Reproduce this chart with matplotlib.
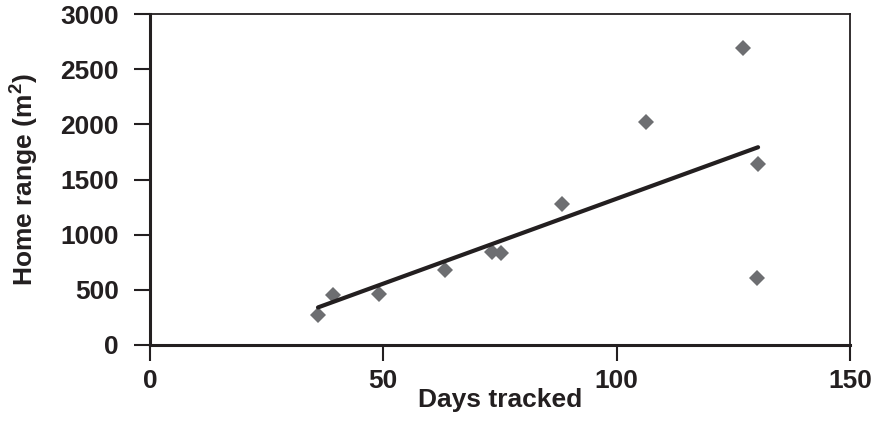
import numpy as np
import matplotlib
matplotlib.use("Agg")
import matplotlib.pyplot as plt

# Data
days = [36.0, 39.2, 49.1, 63.2, 73.3, 75.2, 88.3, 106.3, 127.1, 130.3, 130.1]
home_range = [272, 453, 462, 680, 843, 834, 1278, 2022, 2693, 1641, 607]

x_ticks = [0, 50, 100, 150]
y_ticks = [0, 500, 1000, 1500, 2000, 2500, 3000]

ink = "#231f20"
grey = "#6d6e71"

plt.rcParams["font.family"] = ["Liberation Sans", "DejaVu Sans"]
plt.rcParams["font.weight"] = "bold"
plt.rcParams["mathtext.fontset"] = "custom"
plt.rcParams["mathtext.rm"] = "Liberation Sans:bold"
plt.rcParams["mathtext.bf"] = "Liberation Sans:bold"

fig = plt.figure(figsize=(8.77, 4.30), dpi=100)
ax = fig.add_axes([150 / 877, 85 / 430, 700 / 877, 331 / 430])

ax.plot(days, home_range, linestyle="none", marker="D", markersize=8.5,
        color=grey, markeredgewidth=0, zorder=3)

# linear trend line (least squares)
slope, intercept = np.polyfit(days, home_range, 1)
xs = np.array([min(days), max(days)])
ax.plot(xs, slope * xs + intercept, color=ink, linewidth=3,
        solid_capstyle="round", zorder=4)

ax.set_xlim(0, 150)
ax.set_ylim(0, 3000)
ax.set_xticks(x_ticks)
ax.set_yticks(y_ticks)

for side in ["left", "bottom"]:
    ax.spines[side].set_linewidth(2.2)
for side in ["top", "right"]:
    ax.spines[side].set_linewidth(1.3)
for sp in ax.spines.values():
    sp.set_color(ink)

ax.tick_params(axis="both", direction="out", length=11.5, width=1.5,
               color=ink, labelsize=19, labelcolor=ink)
ax.tick_params(axis="y", pad=11)
ax.tick_params(axis="x", pad=6)
for lab in ax.get_xticklabels() + ax.get_yticklabels():
    lab.set_fontweight("bold")

ax.set_xlabel("Days tracked", fontsize=19, fontweight="bold", color=ink)
ax.set_ylabel("Home range (m$\\mathrm{^2}$)", fontsize=19, fontweight="bold", color=ink)
ax.xaxis.set_label_coords(0.5, -0.13)
ax.yaxis.set_label_coords(-0.156, 0.5)

fig.savefig("out.png", dpi=100)
